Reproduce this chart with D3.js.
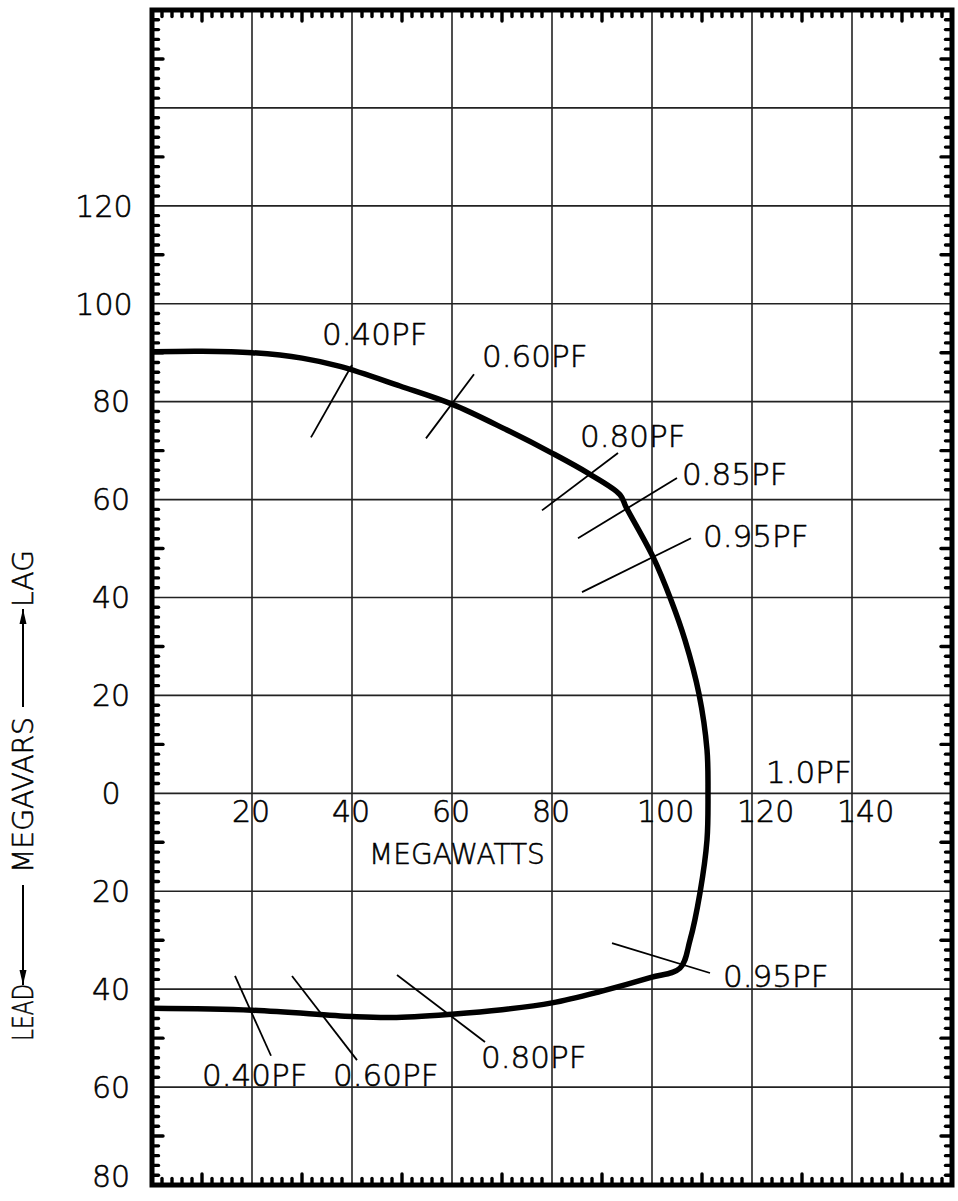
<!DOCTYPE html>
<html>
<head>
<meta charset="utf-8">
<script src="https://cdn.jsdelivr.net/npm/d3@7"></script>
<style>
  body { margin: 0; background: #fff; }
  svg text { font-family: "DejaVu Sans", sans-serif; font-weight: 200; fill: #000; stroke: #000; stroke-width: 0.55; }
</style>
</head>
<body>
<svg></svg>
<script>
const width = 958;
const height = 1201;

// capability curve, megawatts vs megavars (lead is negative)
const curveMW   = [0, 10, 20, 30, 37.6, 49.6, 60, 71, 80, 87.2, 93.6, 94.8, 100.2, 103.8, 106.6, 109.4, 111, 111.2, 111, 109.6, 107.6, 105.6, 99.8, 89.6, 80, 70, 60, 48, 40, 20, 0];
const curveMVAR = [90.2, 90.3, 90, 88.9, 87.2, 83.2, 79.5, 74.2, 69.5, 65.4, 61, 58.5, 48.3, 39.5, 31.3, 20.3, 8.9, 0, -9.5, -20.3, -30, -35.7, -37.6, -40.5, -42.8, -44.2, -45.1, -45.8, -45.6, -44.3, -43.9];

// power factor annotations: label, leader line ends (MW, MVAR), label anchor (MW, MVAR)
const pfLabels = ['0.40PF', '0.60PF', '0.80PF', '0.85PF', '0.95PF', '1.0PF', '0.95PF', '0.40PF', '0.60PF', '0.80PF'];
const pfLine = [
  [31.8, 72.7, 40, 87.5],
  [54.8, 72.5, 64.4, 85.6],
  [78, 57.8, 93.2, 69.5],
  [85.2, 52.1, 105, 64.4],
  [86, 41.1, 107.8, 52.1],
  null,
  [92, -30.6, 111.6, -36.7],
  [16.6, -37.3, 23.8, -53.6],
  [28, -37.3, 41, -54.5],
  [49, -37.1, 66.6, -50.8],
];
const pfTextAt = [
  [34, 91.6], [66, 87.1], [85.6, 70.7], [106, 63], [110.2, 50.3],
  [122.8, 2.1], [114.2, -39.6], [10, -59.8], [36.2, -59.8], [65.8, -56.1],
];

const xTicks = [20, 40, 60, 80, 100, 120, 140];
const yTicks = [120, 100, 80, 60, 40, 20, 0, -20, -40, -60, -80];

const svg = d3.select('svg')
              .attr('width', width)
              .attr('height', height);

const x = d3.scaleLinear().domain([0, 160]).range([152, 952]);
const y = d3.scaleLinear().domain([-80, 160]).range([1185, 10]);

// grid every 20
svg.append('g')
   .selectAll('line')
   .data(d3.range(20, 160, 20))
   .enter()
   .append('line')
     .attr('x1', d => x(d)).attr('x2', d => x(d))
     .attr('y1', y(160)).attr('y2', y(-80))
     .attr('stroke', '#222').attr('stroke-width', 1.6);

svg.append('g')
   .selectAll('line')
   .data(d3.range(-60, 160, 20))
   .enter()
   .append('line')
     .attr('x1', x(0)).attr('x2', x(160))
     .attr('y1', d => y(d)).attr('y2', d => y(d))
     .attr('stroke', '#222').attr('stroke-width', 1.6);

// frame with small inward ticks every 2 units
svg.append('rect')
   .attr('x', x(0)).attr('y', y(160))
   .attr('width', x(160) - x(0)).attr('height', y(-80) - y(160))
   .attr('fill', 'none').attr('stroke', '#000').attr('stroke-width', 5);

const tickLen = v => (v % 10 === 0 ? 11 : 6.5);
const xMinor = d3.range(2, 160, 2).filter(v => v % 20 !== 0);
const yMinor = d3.range(-78, 160, 2).filter(v => v % 20 !== 0);
const ticks = svg.append('g')
                 .attr('stroke', '#000').attr('stroke-width', 3.4)
                 .attr('stroke-linecap', 'round');

xMinor.forEach(v => {
  ticks.append('line').attr('x1', x(v)).attr('x2', x(v))
       .attr('y1', y(160)).attr('y2', y(160) + tickLen(v));
  ticks.append('line').attr('x1', x(v)).attr('x2', x(v))
       .attr('y1', y(-80)).attr('y2', y(-80) - tickLen(v));
});
yMinor.forEach(v => {
  ticks.append('line').attr('y1', y(v)).attr('y2', y(v))
       .attr('x1', x(0)).attr('x2', x(0) + tickLen(Math.abs(v)));
  ticks.append('line').attr('y1', y(v)).attr('y2', y(v))
       .attr('x1', x(160)).attr('x2', x(160) - tickLen(Math.abs(v)));
});

// tick labels (lead side shown without sign)
svg.append('g')
   .selectAll('text')
   .data(yTicks)
   .enter()
   .append('text')
     .attr('x', d => String(Math.abs(d)).length > 2 ? 104 : 111)
     .attr('y', d => Math.min(y(d), y(-78.2)))
     .attr('dy', '0.36em')
     .attr('text-anchor', 'middle')
     .attr('font-size', 30)
     .text(d => Math.abs(d));

svg.append('g')
   .selectAll('text')
   .data(xTicks)
   .enter()
   .append('text')
     .attr('x', d => x(d) - (String(d).length > 2 ? 15 : 20))
     .attr('y', y(0) + 29)
     .attr('font-size', 30)
     .text(d => d);

svg.append('text')
   .attr('x', x(61))
   .attr('y', y(0) + 71)
   .attr('text-anchor', 'middle')
   .attr('font-size', 28)
   .text('MEGAWATTS');

// y title with arrows
svg.append('defs').append('marker')
   .attr('id', 'arrow')
   .attr('markerUnits', 'userSpaceOnUse')
   .attr('viewBox', '0 -4 15 8')
   .attr('refX', 15).attr('refY', 0)
   .attr('markerWidth', 15).attr('markerHeight', 8)
   .attr('orient', 'auto')
   .append('path')
     .attr('d', 'M0,-3.5L15,0L0,3.5Z')
     .attr('fill', '#000');

const title = svg.append('g').attr('transform', 'translate(33,0) rotate(-90)');
title.append('text').attr('x', -1041).attr('y', 0).attr('font-size', 28)
     .attr('textLength', 57).attr('lengthAdjust', 'spacingAndGlyphs').text('LEAD');
title.append('line').attr('x1', -885).attr('x2', -985).attr('y1', -10).attr('y2', -10)
     .attr('stroke', '#000').attr('stroke-width', 2).attr('marker-end', 'url(#arrow)');
title.append('text').attr('x', -873).attr('y', 0).attr('font-size', 28)
     .attr('textLength', 156).attr('lengthAdjust', 'spacingAndGlyphs').text('MEGAVARS');
title.append('line').attr('x1', -707).attr('x2', -609).attr('y1', -10).attr('y2', -10)
     .attr('stroke', '#000').attr('stroke-width', 2).attr('marker-end', 'url(#arrow)');
title.append('text').attr('x', -607).attr('y', 0).attr('font-size', 28)
     .attr('textLength', 57).attr('lengthAdjust', 'spacingAndGlyphs').text('LAG');

// power factor leaders
svg.append('g')
   .selectAll('line')
   .data(pfLine.filter(d => d))
   .enter()
   .append('line')
     .attr('x1', d => x(d[0])).attr('y1', d => y(d[1]))
     .attr('x2', d => x(d[2])).attr('y2', d => y(d[3]))
     .attr('stroke', '#000').attr('stroke-width', 1.8);

svg.append('g')
   .selectAll('text')
   .data(pfLabels)
   .enter()
   .append('text')
     .attr('x', (d, i) => x(pfTextAt[i][0]))
     .attr('y', (d, i) => y(pfTextAt[i][1]))
     .attr('font-size', 31)
     .text(d => d);

// the capability curve
const line = d3.line()
               .x(i => x(curveMW[i]))
               .y(i => y(curveMVAR[i]))
               .curve(d3.curveCatmullRom.alpha(0.5));

svg.append('path')
   .attr('d', line(d3.range(curveMW.length)))
   .attr('fill', 'none')
   .attr('stroke', '#000')
   .attr('stroke-width', 5.5)
   .attr('stroke-linejoin', 'round');
</script>
</body>
</html>
